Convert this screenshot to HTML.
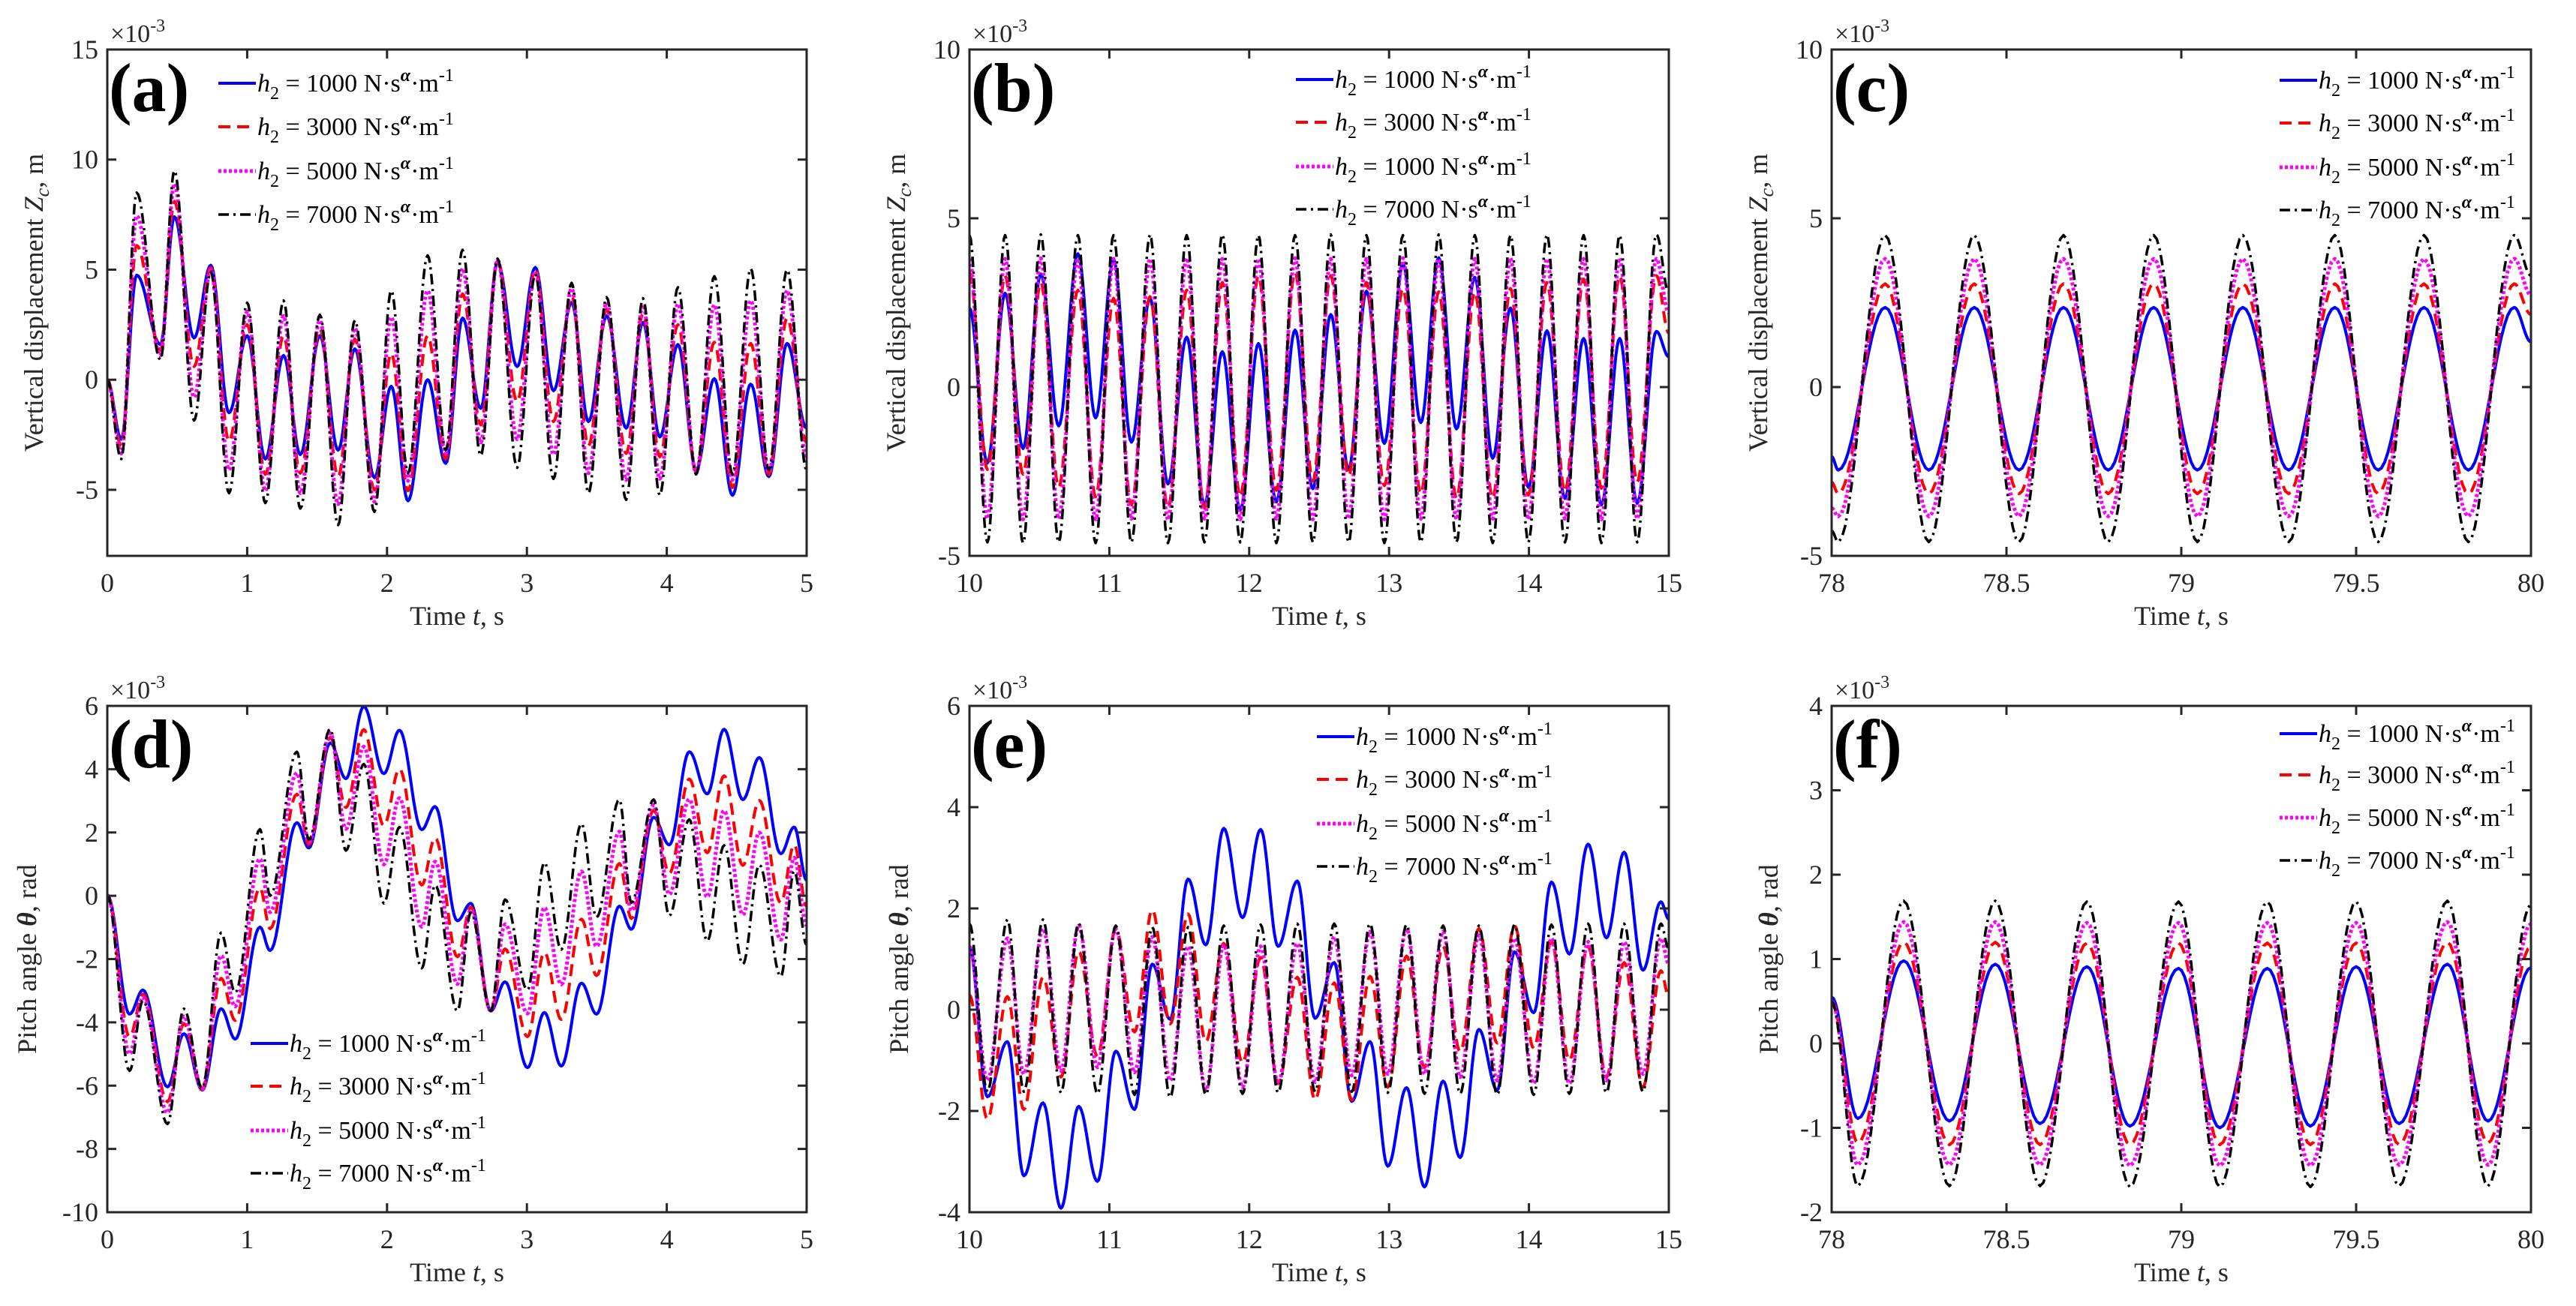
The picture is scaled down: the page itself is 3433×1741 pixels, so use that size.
<!DOCTYPE html>
<html><head><meta charset="utf-8"><style>
html,body{margin:0;padding:0;background:#fff;}
svg{display:block;font-family:"Liberation Serif",serif;}
</style></head><body>
<svg id="fig" width="3433" height="1741" viewBox="0 0 3433 1741" xmlns="http://www.w3.org/2000/svg"></svg>
<script>
// ---------- Panel (a) data: extrema times and values (x1e-3 m) ----------
const aTimes=[0,0.10,0.21,0.38,0.48,0.62,0.74,0.87,1.0,1.13,1.26,1.38,1.52,1.65,1.77,1.91,2.03,2.15,2.29,2.42,2.54,2.67,2.79,2.93,3.06,3.19,3.32,3.44,3.57,3.71,3.83,3.95,4.08,4.21,4.34,4.47,4.60,4.73,4.86,5.0];
const aBlue=[0,-2.7,4.75,1.6,7.4,1.9,5.2,-1.5,2.0,-3.6,1.1,-3.4,2.0,-3.2,1.4,-4.45,-0.3,-5.5,0,-3.8,2.8,-1.3,5.35,0.6,5.1,-0.5,3.5,-1.9,2.9,-2.2,2.6,-2.6,1.6,-4.1,0.05,-5.25,-0.2,-4.4,1.65,-2.2];
const aRed=[0,-3.0,6.1,1.35,8.1,0.6,5.1,-2.8,2.5,-4.3,2.0,-4.25,2.3,-4.4,1.85,-5.0,1.2,-5.05,2.0,-3.6,3.9,-2.05,5.4,-1.0,5.0,-1.9,3.8,-3.0,3.2,-3.35,3.0,-3.5,2.5,-4.2,1.7,-4.9,1.65,-4.3,2.8,-2.85];
const aMag=[0,-3.35,7.45,1.1,8.9,-0.8,5.0,-4.1,3.1,-5.05,2.9,-5.15,2.7,-5.65,2.35,-5.55,2.85,-4.6,4.05,-3.35,5.05,-2.85,5.45,-2.7,4.9,-3.4,4.15,-4.25,3.5,-4.55,3.4,-4.5,3.45,-4.25,3.4,-4.55,3.6,-4.2,4.05,-3.55];
const aBlack=[0,-3.6,8.5,0.9,9.5,-1.85,4.9,-5.15,3.5,-5.6,3.6,-5.85,2.95,-6.6,2.7,-6.0,4.05,-4.25,5.65,-3.2,5.9,-3.45,5.5,-4.0,4.8,-4.5,4.4,-5.15,3.75,-5.45,3.7,-5.25,4.2,-4.3,4.7,-4.3,5.05,-4.1,5.0,-4.1];
// ---------- Panel (b) ----------
const bTimes=[10.000,10.128,10.255,10.383,10.510,10.638,10.775,10.902,11.030,11.158,11.291,11.419,11.553,11.680,11.808,11.936,12.066,12.194,12.328,12.455,12.583,12.711,12.838,12.966,13.099,13.227,13.355,13.482,13.613,13.741,13.868,13.996,14.129,14.257,14.391,14.518,14.649,14.774,14.911,15.0];
const bBlue=[2.34,-2.25,2.78,-1.82,3.35,-1.15,3.95,-0.91,3.78,-1.63,2.63,-2.87,1.48,-3.49,1.05,-3.64,1.29,-3.40,1.69,-3.01,2.15,-2.44,2.84,-1.67,3.64,-1.05,3.83,-1.24,3.25,-2.11,2.34,-2.97,1.67,-3.30,1.44,-3.49,1.44,-3.44,1.65,0.9];
const bRed=[3.4,-2.44,3.3,-2.58,3.1,-2.97,2.87,-3.25,2.63,-3.49,2.68,-3.59,2.87,-3.59,3.1,-3.25,3.3,-3.06,3.4,-2.78,3.3,-2.63,3.1,-2.92,2.92,-3.16,2.82,-3.30,2.82,-3.30,2.92,-3.2,3.1,-3.1,3.2,-3.0,3.3,-2.82,3.3,1.6];
const bMag=[3.8,-3.9,3.8,-3.92,3.82,-3.9,3.8,-3.92,3.8,-3.9,3.8,-3.93,3.82,-3.9,3.8,-3.92,3.8,-3.9,3.82,-3.92,3.8,-3.9,3.8,-3.92,3.82,-3.9,3.8,-3.92,3.8,-3.9,3.82,-3.92,3.8,-3.9,3.8,-3.92,3.82,-3.9,3.8,2.2];
const bBlack=[4.5,-4.6,4.5,-4.62,4.52,-4.6,4.5,-4.62,4.5,-4.6,4.52,-4.62,4.5,-4.6,4.52,-4.6,4.5,-4.62,4.5,-4.6,4.52,-4.6,4.5,-4.62,4.5,-4.6,4.52,-4.6,4.5,-4.62,4.5,-4.6,4.52,-4.6,4.5,-4.62,4.5,-4.6,4.52,2.8];
// ---------- Panel (c) ----------
const cTimes=[78.0,78.019,78.153,78.278,78.408,78.536,78.663,78.791,78.921,79.046,79.176,79.307,79.439,79.563,79.694,79.821,79.952,80.0];
const cBlue=[-2.06,-2.46,2.36,-2.46,2.36,-2.46,2.36,-2.46,2.36,-2.46,2.36,-2.46,2.36,-2.46,2.36,-2.46,2.36,1.34];
const cRed=[-2.82,-3.16,3.06,-3.16,3.06,-3.16,3.06,-3.16,3.06,-3.16,3.06,-3.16,3.06,-3.16,3.06,-3.16,3.06,2.15];
const cMag=[-3.59,-3.83,3.80,-3.83,3.80,-3.83,3.80,-3.83,3.80,-3.83,3.80,-3.83,3.80,-3.83,3.80,-3.83,3.80,2.73];
const cBlack=[-4.26,-4.59,4.50,-4.59,4.50,-4.59,4.50,-4.59,4.50,-4.59,4.50,-4.59,4.50,-4.59,4.50,-4.59,4.50,3.3];
// ---------- Panel (d) ----------
const dTimes=[0,0.159,0.255,0.430,0.548,0.679,0.813,0.915,1.091,1.164,1.355,1.441,1.594,1.706,1.834,1.977,2.089,2.248,2.344,2.503,2.599,2.742,2.844,3.004,3.125,3.246,3.390,3.498,3.661,3.747,3.906,4.018,4.161,4.289,4.410,4.544,4.662,4.815,4.911,5.0];
const dBlue=[0.03,-3.74,-2.98,-6.04,-4.36,-6.14,-3.57,-4.53,-0.99,-1.73,2.31,1.51,4.83,3.70,5.98,3.86,5.23,2.09,2.82,-0.79,-0.24,-3.64,-2.72,-5.43,-3.69,-5.38,-2.76,-3.74,-0.33,-1.06,2.48,1.61,4.55,3.22,5.26,3.04,4.37,1.33,2.17,0.49];
const dRed=[0.03,-4.46,-3.11,-6.51,-4.04,-6.12,-2.61,-3.94,0.25,-1.04,3.21,1.61,5.01,2.79,5.25,2.22,4.01,0.34,1.83,-1.93,-0.36,-3.64,-1.68,-4.45,-1.79,-3.91,-0.74,-2.52,1.02,-0.72,2.70,0.71,3.69,1.36,3.79,0.96,3.01,-0.22,1.61,-0.33];
const dMag=[0.03,-5.0,-3.21,-6.86,-3.81,-6.11,-1.89,-3.50,1.17,-0.52,3.88,1.69,5.14,2.11,4.71,0.99,3.09,-0.98,1.08,-2.79,-0.44,-3.64,-0.90,-3.72,-0.37,-2.80,0.77,-1.60,2.03,-0.47,2.87,0.04,3.05,-0.04,2.69,-0.60,2.0,-1.39,1.20,-0.94];
const dBlack=[0.03,-5.53,-3.31,-7.21,-3.57,-6.09,-1.17,-3.06,2.10,0.0,4.55,1.77,5.27,1.43,4.16,-0.24,2.17,-2.29,0.34,-3.64,-0.53,-3.64,-0.12,-2.98,1.05,-1.70,2.28,-0.68,3.04,-0.22,3.04,-0.63,2.41,-1.43,1.59,-2.16,0.98,-2.55,0.78,-1.55];
// ---------- Panel (e) ----------
const eTimes=[10.000,10.128,10.271,10.389,10.526,10.654,10.781,10.915,11.046,11.180,11.307,11.435,11.563,11.690,11.818,11.952,12.082,12.207,12.344,12.471,12.608,12.733,12.864,12.991,13.125,13.253,13.386,13.508,13.642,13.773,13.897,14.034,14.161,14.289,14.423,14.554,14.681,14.815,14.943,15.0];
const eBlue=[1.25,-1.72,-0.63,-3.28,-1.84,-3.92,-1.91,-3.39,-0.82,-1.97,0.90,-0.19,2.58,1.28,3.58,1.82,3.56,1.25,2.54,-0.17,0.93,-1.81,-0.63,-3.09,-1.54,-3.50,-1.41,-2.92,-0.39,-1.59,1.14,-0.06,2.52,1.10,3.27,1.42,3.11,0.78,2.13,1.79];
const eRed=[0.29,-2.16,0.26,-1.97,0.64,-1.33,1.15,-0.92,1.60,-0.44,1.97,-0.28,1.89,-0.63,1.31,-1.05,1.03,-1.46,0.64,-1.78,0.53,-1.78,0.66,-1.53,1.06,-1.14,1.25,-0.83,1.60,-0.66,1.66,-0.76,1.34,-1.0,1.25,-1.33,0.93,-1.53,0.77,0.26];
const eMag=[1.25,-1.40,1.41,-1.27,1.60,-1.21,1.66,-1.14,1.60,-1.24,1.44,-1.40,1.25,-1.59,1.28,-1.53,1.25,-1.46,1.31,-1.43,1.44,-1.30,1.54,-1.27,1.60,-1.27,1.54,-1.33,1.47,-1.40,1.41,-1.46,1.41,-1.46,1.34,-1.40,1.34,-1.27,1.41,0.9];
const eBlack=[1.70,-1.62,1.78,-1.62,1.78,-1.64,1.71,-1.66,1.66,-1.68,1.63,-1.73,1.63,-1.68,1.66,-1.66,1.68,-1.64,1.70,-1.62,1.70,-1.62,1.70,-1.64,1.68,-1.66,1.66,-1.66,1.66,-1.68,1.68,-1.68,1.68,-1.66,1.70,-1.64,1.70,-1.62,1.70,1.2];
// ---------- Panel (f) ----------
const fTimes=[78.0,78.075,78.206,78.337,78.468,78.596,78.730,78.853,78.992,79.110,79.246,79.369,79.500,79.623,79.761,79.877,80.0];
const fBlue=[0.55,-0.89,0.98,-0.92,0.94,-0.95,0.91,-0.98,0.89,-1.0,0.89,-0.98,0.91,-0.95,0.94,-0.92,0.9];
const fRed=[0.5,-1.18,1.2,-1.2,1.2,-1.2,1.19,-1.2,1.19,-1.2,1.19,-1.2,1.19,-1.2,1.2,-1.18,1.15];
const fMag=[0.5,-1.44,1.44,-1.44,1.44,-1.44,1.43,-1.45,1.43,-1.45,1.43,-1.45,1.43,-1.44,1.44,-1.44,1.42];
const fBlack=[0.5,-1.69,1.69,-1.69,1.69,-1.69,1.68,-1.7,1.68,-1.7,1.68,-1.7,1.68,-1.69,1.69,-1.69,1.65];
// ---------- Axis ticks ----------
const xTicksA=[0,1,2,3,4,5];
const xTicksB=[10,11,12,13,14,15];
const xTicksC=[78,78.5,79,79.5,80];
const yTicksABC=[-5,0,5,10,15];
const yTicksD=[-10,-8,-6,-4,-2,0,2,4,6];
const yTicksE=[-4,-2,0,2,4,6];
const yTicksF=[-2,-1,0,1,2,3,4];
const legendA=["1000","3000","5000","7000"];
const legendB=["1000","3000","1000","7000"];

const NS="http://www.w3.org/2000/svg";
const svg=document.getElementById('fig');
function mk(tag,attrs,parent){const e=document.createElementNS(NS,tag);for(const k in attrs)e.setAttribute(k,attrs[k]);(parent||svg).appendChild(e);return e;}

const styles=[
 {c:"#0000ff",w:4,d:""},
 {c:"#ff0000",w:4,d:"16 9"},
 {c:"#ff00ff",w:5,d:"4 3"},
 {c:"#000000",w:3.5,d:"14 6 3 6"}
];

const panels=[
 {id:"a",x:143,y:66,xr:[0,5],yr:[-8,15],xt:xTicksA,yt:yTicksABC,t:aTimes,s:[aBlue,aRed,aMag,aBlack],leg:legendA,lx:148,ly:[45,103,162,220],yl:"Z",ylx:-86},
 {id:"b",x:1292,y:66,xr:[10,15],yr:[-5,10],xt:xTicksB,yt:yTicksABC,t:bTimes,s:[bBlue,bRed,bMag,bBlack],leg:legendB,lx:435,ly:[40,97,156,213],yl:"Z",ylx:-86},
 {id:"c",x:2441,y:66,xr:[78,80],yr:[-5,10],xt:xTicksC,yt:yTicksABC,t:cTimes,s:[cBlue,cRed,cMag,cBlack],leg:legendA,lx:597,ly:[41,98,157,214],yl:"Z",ylx:-86},
 {id:"d",x:143,y:941,xr:[0,5],yr:[-10,6],xt:xTicksA,yt:yTicksD,t:dTimes,s:[dBlue,dRed,dMag,dBlack],leg:legendA,lx:191,ly:[450,507,566,623],yl:"T",ylx:-95},
 {id:"e",x:1292,y:941,xr:[10,15],yr:[-4,6],xt:xTicksB,yt:yTicksE,t:eTimes,s:[eBlue,eRed,eMag,eBlack],leg:legendA,lx:463,ly:[41,98,157,214],yl:"T",ylx:-82},
 {id:"f",x:2441,y:941,xr:[78,80],yr:[-2,4],xt:xTicksC,yt:yTicksF,t:fTimes,s:[fBlue,fRed,fMag,fBlack],leg:legendA,lx:597,ly:[37,92,149,206],yl:"T",ylx:-72}
];
const W=932,H=675;
const seriesNames=["h2-1000","h2-3000","h2-5000","h2-7000"];

panels.forEach(p=>{
 const g=mk('g',{});
 
 
 const X=t=>p.x+(t-p.xr[0])/(p.xr[1]-p.xr[0])*W;
 const Y=v=>p.y+H-(v-p.yr[0])/(p.yr[1]-p.yr[0])*H;
 const cp=mk('clipPath',{id:'clip-'+p.id},g);
 mk('rect',{x:p.x,y:p.y,width:W,height:H},cp);
 // series
 const sg=mk('g',{'clip-path':'url(#clip-'+p.id+')'},g);
 p.s.forEach((vals,si)=>{
  let d="";
  for(let i=0;i<p.t.length-1;i++){
   const t0=p.t[i],t1=p.t[i+1],v0=vals[i],v1=vals[i+1];
   const N=14;
   for(let k=(i===0?0:1);k<=N;k++){
    const u=k/N;const t=t0+(t1-t0)*u;const v=v0+(v1-v0)*(1-Math.cos(Math.PI*u))/2;
    d+=(d?"L":"M")+X(t).toFixed(1)+" "+Y(v).toFixed(1);
   }
  }
  const st=styles[si];
  const path=mk('path',{d:d,fill:"none",stroke:st.c,'stroke-width':st.w,'stroke-dasharray':st.d,'stroke-linejoin':'round'},sg);
  
  
 });
 // frame
 const fr=mk('rect',{x:p.x,y:p.y,width:W,height:H,fill:"none",stroke:"#262626","stroke-width":3},g);
 
 
 // x ticks
 p.xt.forEach(t=>{
  const x=X(t);
  mk('line',{x1:x,y1:p.y+H,x2:x,y2:p.y+H-12,stroke:"#262626","stroke-width":3},g);
  mk('line',{x1:x,y1:p.y,x2:x,y2:p.y+12,stroke:"#262626","stroke-width":3},g);
  const tx=mk('text',{x:x,y:p.y+H+48,'text-anchor':'middle','font-size':36,fill:"#262626"},g);
  tx.textContent=String(t);
  
  
 });
 // y ticks
 p.yt.forEach(v=>{
  const y=Y(v);
  mk('line',{x1:p.x,y1:y,x2:p.x+12,y2:y,stroke:"#262626","stroke-width":3},g);
  mk('line',{x1:p.x+W,y1:y,x2:p.x+W-12,y2:y,stroke:"#262626","stroke-width":3},g);
  const tx=mk('text',{x:p.x-12,y:y+12,'text-anchor':'end','font-size':36,fill:"#262626"},g);
  tx.textContent=String(v);
  
  
 });
 // exponent
 const ex=mk('text',{x:p.x+4,y:p.y-10,'font-size':34,fill:"#262626"},g);
 ex.innerHTML='×10<tspan dy="-14" font-size="24">-3</tspan>';
 
 
 // x label
 const xl=mk('text',{x:p.x+W/2,y:p.y+H+92,'text-anchor':'middle','font-size':36,fill:"#262626"},g);
 xl.innerHTML='Time <tspan font-style="italic">t</tspan>, s';
 
 
 // y label
 const cx=p.x+p.ylx, cy=p.y+H/2;
 const yl=mk('text',{x:cx,y:cy,'text-anchor':'middle','font-size':36,fill:"#262626",transform:'rotate(-90 '+cx+' '+cy+')'},g);
 if(p.yl==="Z") yl.innerHTML='Vertical displacement <tspan font-style="italic">Z</tspan><tspan font-style="italic" font-size="26" dy="8">c</tspan><tspan dy="-8">, m</tspan>';
 else yl.innerHTML='Pitch angle <tspan font-style="italic" font-weight="bold">θ</tspan>, rad';
 
 
 // panel label
 const pl=mk('text',{x:p.x+2,y:p.y+82,'font-size':92,'font-weight':'bold',fill:"#000"},g);
 pl.textContent='('+p.id+')';
 
 
 // legend
 p.leg.forEach((lab,i)=>{
  const st=styles[i];
  const ly=p.y+p.ly[i];
  const lg=mk('g',{},g);
  
  
  mk('line',{x1:p.x+p.lx,y1:ly,x2:p.x+p.lx+50,y2:ly,stroke:st.c,'stroke-width':st.w,'stroke-dasharray':st.d},lg);
  const tx=mk('text',{x:p.x+p.lx+52,y:ly+11,'font-size':34,fill:"#000"},lg);
  tx.innerHTML='<tspan font-style="italic">h</tspan><tspan font-size="24" dy="10">2</tspan><tspan dy="-10"> = '+lab+' N·s</tspan><tspan font-size="24" font-weight="bold" font-style="italic" dy="-14">α</tspan><tspan dy="14">·m</tspan><tspan font-size="24" dy="-14">-1</tspan>';
 });
});
</script>
</body></html>
